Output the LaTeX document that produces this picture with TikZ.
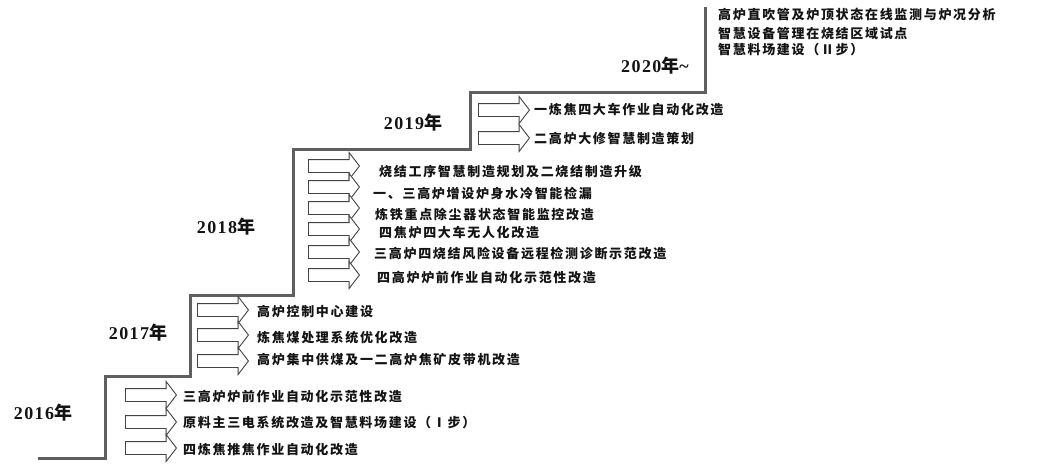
\documentclass[tikz,border=0pt]{standalone}
\usepackage{fontspec}
\usetikzlibrary{shapes.arrows}
\newfontfamily\cjk[LetterSpace=13]{Noto Sans CJK SC}
\newfontfamily\yrfont[LetterSpace=8]{Liberation Serif}
\newfontfamily\yrcjk{Noto Sans CJK SC}
\definecolor{stair}{RGB}{95,95,95}
\definecolor{ink}{RGB}{20,20,20}
\tikzset{
  stairline/.style={draw=stair, line width=3pt, line join=miter},
  blockarrow/.style={shape=single arrow, draw=ink!80, line width=0.9pt, fill=white,
    minimum height=51pt, minimum width=26pt, single arrow head extend=7pt,
    single arrow tip angle=105,
    inner xsep=0pt, inner ysep=6pt, text height=0pt, text depth=0pt, anchor=west},
  itemtext/.style={anchor=west, inner sep=0pt, text=ink,
    font=\cjk\bfseries\fontsize{13}{13}\selectfont},
  yeartext/.style={anchor=center, inner sep=0pt, text=ink,
    font=\bfseries\fontsize{18}{18}\selectfont},
}
\begin{document}
\begin{tikzpicture}[x=1pt,y=-1pt]
\useasboundingbox[fill=white] (0,0) rectangle (1040,467);
% staircase
\coordinate (s0) at (38,458);
\coordinate (s1) at (105,458);
\coordinate (s2) at (105,376);
\coordinate (s3) at (190,376);
\coordinate (s4) at (190,295);
\coordinate (s5) at (293,295);
\coordinate (s6) at (293,149);
\coordinate (s7) at (470,149);
\coordinate (s8) at (470,92);
\coordinate (s9) at (705,92);
\coordinate (s10) at (705,7);
\draw[stairline] (s0) -- (s1) -- (s2) -- (s3) -- (s4) -- (s5) -- (s6) -- (s7) -- (s8) -- (s9) -- (s10);
% years
\node[yeartext] (y2016) at (43,413) {\yrfont 2016\yrcjk 年};
\node[yeartext] (y2017) at (138,333) {\yrfont 2017\yrcjk 年};
\node[yeartext] (y2018) at (226,227) {\yrfont 2018\yrcjk 年};
\node[yeartext] (y2019) at (413,123) {\yrfont 2019\yrcjk 年};
\node[yeartext] (y2020) at (655,66) {\yrfont 2020\yrcjk 年\yrfont\textasciitilde};
% 2016
\node[blockarrow] (a16a) at (125,395) {};
\node[blockarrow] (a16b) at (125,422) {};
\node[blockarrow] (a16c) at (125,448) {};
\node[itemtext] (t16a) at (183,397) {三高炉炉前作业自动化示范性改造};
\node[itemtext] (t16b) at (183,423) {原料主三电系统改造及智慧料场建设（Ⅰ步）};
\node[itemtext] (t16c) at (183,450) {四炼焦推焦作业自动化改造};
% 2017
\node[blockarrow] (a17a) at (197,310) {};
\node[blockarrow] (a17b) at (197,335) {};
\node[blockarrow] (a17c) at (197,361) {};
\node[itemtext] (t17a) at (257,312) {高炉控制中心建设};
\node[itemtext] (t17b) at (257,338) {炼焦煤处理系统优化改造};
\node[itemtext] (t17c) at (257,360) {高炉集中供煤及一二高炉焦矿皮带机改造};
% 2018
\node[blockarrow] (a18a) at (308,166) {};
\node[blockarrow] (a18b) at (308,187) {};
\node[blockarrow] (a18c) at (308,208) {};
\node[blockarrow] (a18d) at (308,229) {};
\node[blockarrow] (a18e) at (308,252) {};
\node[blockarrow] (a18f) at (308,275) {};
\node[itemtext] (t18a) at (379,172) {烧结工序智慧制造规划及二烧结制造升级};
\node[itemtext] (t18b) at (373,194) {一、三高炉增设炉身水冷智能检漏};
\node[itemtext] (t18c) at (375,215) {炼铁重点除尘器状态智能监控改造};
\node[itemtext] (t18d) at (379,233) {四焦炉四大车无人化改造};
\node[itemtext] (t18e) at (374,254) {三高炉四烧结风险设备远程检测诊断示范改造};
\node[itemtext] (t18f) at (377,278) {四高炉炉前作业自动化示范性改造};
% 2019
\node[blockarrow] (a19a) at (478,110) {};
\node[blockarrow] (a19b) at (478,138) {};
\node[itemtext] (t19a) at (534,110) {一炼焦四大车作业自动化改造};
\node[itemtext] (t19b) at (534,139) {二高炉大修智慧制造策划};
% 2020
\node[itemtext] (t20a) at (718,15) {高炉直吹管及炉顶状态在线监测与炉况分析};
\node[itemtext] (t20b) at (718,34) {智慧设备管理在烧结区域试点};
\node[itemtext] (t20c) at (718,50) {智慧料场建设（Ⅱ步）};
\end{tikzpicture}
\end{document}
